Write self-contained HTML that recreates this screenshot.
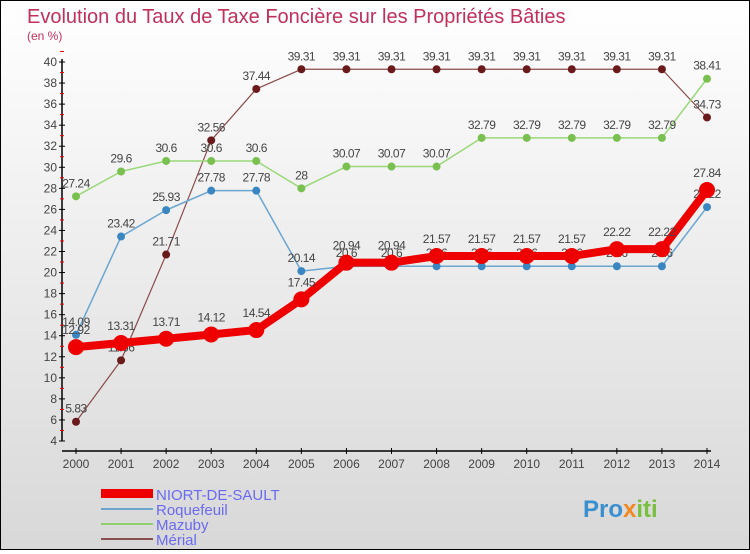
<!DOCTYPE html>
<html><head><meta charset="utf-8"><style>
html,body{margin:0;padding:0}
body{width:750px;height:550px;overflow:hidden;font-family:"Liberation Sans",sans-serif}
#wrap{position:relative;width:748px;height:548px;border:1px solid #000;background:linear-gradient(#ffffff,#d8d8d8)}
</style></head><body>
<div id="wrap">
<svg id="svg" width="748" height="548" xmlns="http://www.w3.org/2000/svg">
<text x="26" y="22" font-size="20" fill="#c0305a">Evolution du Taux de Taxe Foncière sur les Propriétés Bâties</text>
<text x="26" y="39" font-size="12" fill="#c0305a">(en %)</text>
<g id="axes"></g><g id="series"></g>
<g>
<rect x="100" y="488" width="52" height="9" fill="#e00"/>
<text x="155" y="499" font-size="15" fill="#6a6af0">NIORT-DE-SAULT</text>
<line x1="100" y1="508" x2="152" y2="508" stroke="#6aa6d0" stroke-width="2"/>
<text x="155" y="514" font-size="15" fill="#6a6af0">Roquefeuil</text>
<line x1="100" y1="523" x2="152" y2="523" stroke="#8fd070" stroke-width="2"/>
<text x="155" y="529" font-size="15" fill="#6a6af0">Mazuby</text>
<line x1="100" y1="538" x2="152" y2="538" stroke="#8a5050" stroke-width="2"/>
<text x="155" y="544" font-size="15" fill="#6a6af0">Mérial</text>
</g>
<text x="582" y="516" font-size="24" font-weight="bold"><tspan fill="#3a8fd0">Pro</tspan><tspan fill="#f08a20">x</tspan><tspan fill="#7ac040">iti</tspan></text>
</svg>
</div>
<script>
const years=[2000,2001,2002,2003,2004,2005,2006,2007,2008,2009,2010,2011,2012,2013,2014];
const niort=[12.92,13.31,13.71,14.12,14.54,17.45,20.94,20.94,21.57,21.57,21.57,21.57,22.22,22.22,27.84];
const roquefeuil=[14.09,23.42,25.93,27.78,27.78,20.14,20.6,20.6,20.6,20.6,20.6,20.6,20.6,20.6,26.22];
const mazuby=[27.24,29.6,30.6,30.6,30.6,28,30.07,30.07,30.07,32.79,32.79,32.79,32.79,32.79,38.41];
const merial=[5.83,11.66,21.71,32.56,37.44,39.31,39.31,39.31,39.31,39.31,39.31,39.31,39.31,39.31,34.73];
const yTicks=[4,6,8,10,12,14,16,18,20,22,24,26,28,30,32,34,36,38,40];
const NS="http://www.w3.org/2000/svg";
const xs=i=>75+i*(631/14);
const ys=v=>440-(v-4)*(379/36);
function mk(tag,attrs,parent){const e=document.createElementNS(NS,tag);for(const k in attrs)e.setAttribute(k,attrs[k]);parent.appendChild(e);return e;}
const ax=document.getElementById('axes');
let l=mk('line',{x1:61,y1:ys(40)-3,x2:61,y2:ys(4),stroke:'#000','stroke-width':1.5},ax);


l=mk('line',{x1:61,y1:450,x2:710,y2:450,stroke:'#000','stroke-width':1.5},ax);


yTicks.forEach(v=>{
 mk('line',{x1:58,y1:ys(v),x2:64,y2:ys(v),stroke:'#000'},ax);
 mk('line',{x1:59,y1:ys(v+1),x2:63,y2:ys(v+1),stroke:'#e00'},ax);
 const t=mk('text',{x:56,y:ys(v)+4,'font-size':12,'text-anchor':'end',fill:'#444'},ax);
 t.textContent=v;
 
 
});
years.forEach((y,i)=>{
 mk('line',{x1:xs(i),y1:447,x2:xs(i),y2:453,stroke:'#000'},ax);
 const t=mk('text',{x:xs(i),y:467,'font-size':12,'text-anchor':'middle',fill:'#444'},ax);
 t.textContent=y;
 
 
});
const sg=document.getElementById('series');
function draw(data,name,color,w,r,ptColor){
 const g=mk('g',{},sg);
 
 
 const p=mk('polyline',{points:data.map((v,i)=>xs(i)+','+ys(v)).join(' '),fill:'none',stroke:color,'stroke-width':w,'stroke-linejoin':'round'},g);
 
 
 data.forEach((v,i)=>{
  const c=mk('circle',{cx:xs(i),cy:ys(v),r:r,fill:ptColor},g);
  
  
  const t=mk('text',{x:xs(i),y:ys(v)-9-(r>5?4:0),'font-size':12,'text-anchor':'middle',fill:'#444','letter-spacing':'-0.5'},g);
  t.textContent=String(v);
  
  
 });
}
draw(merial,'merial','#8a4a4a',1.2,4,'#6a1a1a');
draw(mazuby,'mazuby','#9ad878',1.5,4,'#7ac050');
draw(roquefeuil,'roquefeuil','#6aa6d0',1.5,4,'#3a86c0');
draw(niort,'niort','#ee0000',8,8,'#ee0000');
</script>
</body></html>
